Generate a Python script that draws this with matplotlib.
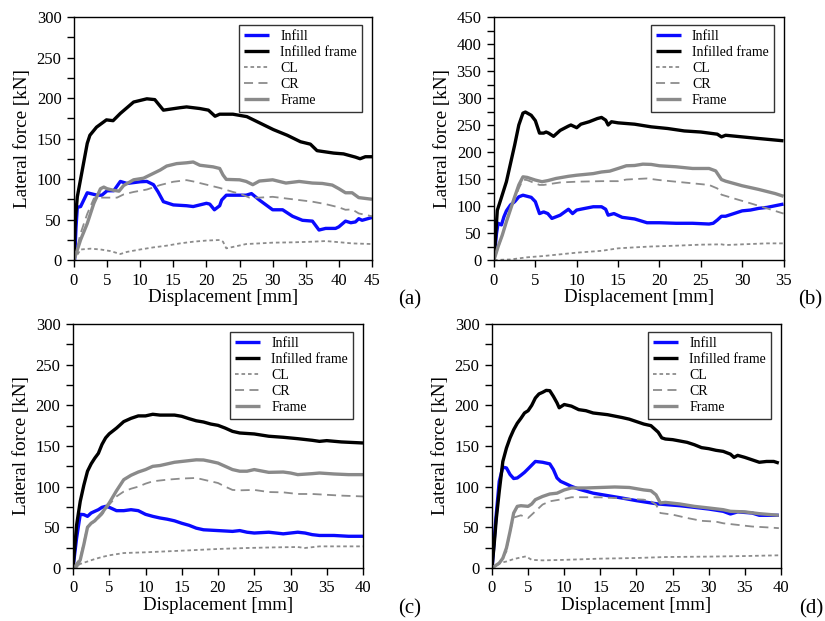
import matplotlib
matplotlib.use("Agg")
import matplotlib.pyplot as plt
from matplotlib.ticker import MultipleLocator

plt.rcParams['font.family'] = ['Liberation Serif', 'DejaVu Serif']

# ---------------- Panel (a) ----------------
a_inf_x = [0, 0.05, 0.3, 0.5, 1, 2, 2.5, 3.5, 4.2, 5, 6, 7, 8, 10, 11, 12, 12.7, 13.5, 15, 17, 18, 19, 20, 20.5,
           21.2, 22, 22.3, 23, 25, 26, 26.8, 28, 30, 31.5, 33, 34.5, 36, 37, 38, 39.5, 40, 41, 41.8, 42.5, 43, 43.5, 45]
a_inf_y = [0, -7, 40, 65, 66, 83, 82, 80, 80, 85.5, 85.5, 97, 94.5, 96.6, 97, 93, 84, 72, 68, 67, 66, 68, 70, 69,
           62, 67, 74, 80, 80, 80, 82, 74, 62, 62, 54, 49, 48, 37, 39, 39, 41, 48, 46, 47, 51, 49, 52.5]
a_if_x = [0, 0.2, 0.5, 1, 2, 2.4, 3.4, 4.9, 5.9, 7, 9, 11, 12.2, 13.5, 16, 17, 19, 20.3, 21.3, 22, 24, 26.1, 28.1,
          30.1, 32.2, 34.2, 35.7, 36.7, 39.2, 40.7, 42.5, 43.2, 44, 45]
a_if_y = [0, 50, 78, 100, 144, 154, 164, 173, 172, 181, 195, 199, 198, 185, 188, 189, 187, 185, 177.5, 180, 180, 177,
          169, 161, 154, 146, 143, 135, 132, 131, 127, 125, 127.5, 127.5]
a_cl_x = [0, 1, 2.5, 4, 5.5, 7, 8, 10, 12, 14, 16, 18, 20, 22, 22.5, 23, 24.5, 26, 28, 30, 33, 36, 38, 40, 42, 45]
a_cl_y = [0, 13, 14, 13, 11, 7.4, 10, 13, 15.6, 17.7, 20.5, 22.6, 24, 24.7, 22.6, 14.4, 17, 19.7, 20.5, 21.4, 21.8,
          22.6, 23.4, 22, 20.5, 19.7]
a_cr_x = [0, 1, 2, 3, 4, 5, 6.5, 7.5, 9, 11, 13, 15, 17, 18, 20, 22, 24, 25, 26.5, 28, 30, 33, 36, 38, 40, 41, 42,
          43, 45]
a_cr_y = [0, 33, 57, 76, 77, 77, 77, 81, 84, 87, 92.5, 96.6, 98.6, 97, 93, 89, 84, 82, 77, 77, 78, 75, 72, 69, 65,
          62, 62.5, 57.5, 54]
a_fr_x = [0, 1, 2, 3, 4, 4.5, 5, 6, 6.8, 7.5, 9, 10.5, 12, 13, 14, 15.5, 17, 18, 19, 21, 22, 22.5, 23, 25, 26, 27,
          28, 30, 31, 32, 34, 36, 37.5, 39, 40, 41, 42, 43, 45]
a_fr_y = [0, 25, 45, 70, 88, 90, 88, 86, 85, 92, 99, 101, 107, 111, 116, 119, 120, 121, 117, 115, 113, 105, 99.5,
          99, 97, 93, 97.5, 99, 97, 95, 97, 95, 94.5, 92.5, 88, 83, 83, 77, 75]

# ---------------- Panel (b) ----------------
b_inf_x = [0, 0.3, 0.5, 0.9, 1.2, 1.5, 2, 2.5, 3, 3.5, 4, 4.5, 5, 5.5, 6, 6.5, 7, 8, 9, 9.5, 10, 11, 12, 13, 13.5,
           13.8, 14.5, 15.5, 17, 18.5, 20, 22, 24, 26, 26.5, 27, 27.5, 28, 29, 30, 31, 32, 33, 35]
b_inf_y = [0, 49, 68, 65, 80, 91, 102, 108, 117, 120, 118, 116, 108, 86, 89, 86, 77, 83, 94, 86, 92.5, 95.6, 98.6,
           98.6, 94, 83, 86, 79, 76, 69, 69, 68, 68, 66.6, 68, 74, 81, 81, 86, 91, 92.5, 95.6, 97.4, 103.6]
b_if_x = [0, 0.4, 0.8, 1.5, 2, 2.5, 3, 3.5, 3.8, 4.5, 5, 5.5, 6, 6.3, 6.6, 7.2, 8, 9, 9.3, 10, 10.5, 11.5, 12.5, 13,
          13.5, 13.8, 14.2, 15, 17, 19, 21, 23, 25, 27, 27.5, 28, 30, 32, 35]
b_if_y = [0, 92, 111, 145, 179, 213, 250, 272, 274, 268, 258, 235, 235, 237, 235, 229, 240, 248, 250, 245, 251.5,
          256, 262, 264, 259, 250, 256, 254, 251.5, 246.6, 243.5, 239, 237, 233, 228, 231, 228, 225, 220.7]
b_cl_x = [0, 2, 4, 6, 8, 10, 13, 15, 17, 19, 22, 25, 27.5, 28, 30, 33, 35]
b_cl_y = [0, 1, 5, 7.4, 10.5, 13.6, 17, 21.6, 23.4, 25, 26.5, 28.4, 29, 27.7, 29, 30.8, 30.8]
b_cr_x = [0, 1, 2, 3, 3.5, 4, 5.5, 6, 8, 10, 13, 15, 16, 18.5, 20, 22, 24, 26, 27, 27.5, 29, 31, 33, 35]
b_cr_y = [0, 46, 94, 132.5, 149, 148, 139, 139, 143.6, 145, 146, 146, 149, 151, 148, 145, 142, 139, 132.5, 121, 114,
          105, 95.6, 86]
b_fr_x = [0, 0.5, 1, 1.5, 2, 2.5, 3, 3.5, 4, 5, 5.8, 6.5, 7.5, 9, 10, 12, 13, 14, 15, 16, 17, 18, 19, 20, 22, 24,
          26, 26.8, 27.5, 28, 30, 32, 34, 35]
b_fr_y = [0, 25, 46, 71, 94, 117, 139, 154, 153, 148, 145, 147, 151, 155, 157, 160, 163, 164.6, 169.5, 174.5, 175,
          177.5, 177, 174.5, 172.6, 169.5, 169.5, 165, 149, 146, 137.5, 130.7, 123, 118]

# ---------------- Panel (c) ----------------
c_inf_x = [0, 0.5, 1, 1.5, 2, 2.5, 3, 3.5, 4, 4.5, 5, 6, 7, 8, 9, 10, 11, 12, 13, 14, 15, 16, 17, 18, 20, 22, 23,
           24, 25, 27, 29, 31, 32, 33, 34, 36, 38, 40]
c_inf_y = [0, 37, 66, 65.6, 63.5, 67.6, 69.7, 71.7, 74.6, 75.8, 74.6, 70.5, 70.5, 71.7, 70.5, 66, 63.5, 61.5, 60,
           58, 55, 52.5, 49, 47, 46, 45, 46, 44, 43, 44, 42, 44, 43, 41, 40, 40, 39, 39]
c_if_x = [0, 0.5, 1, 1.5, 2, 2.5, 3, 3.5, 4, 4.5, 5, 6, 7, 8, 9, 10, 11, 12, 14, 15, 16, 17, 18, 19, 20, 21, 22, 23,
          25, 27, 29, 31, 33, 34, 35, 37, 40]
c_if_y = [0, 53, 82, 102, 119, 128, 135, 141, 152, 160, 165, 172, 180, 184, 187, 187, 189, 188, 188, 186.5, 183.6,
          181, 179.5, 177, 175.4, 172, 168, 166, 164.8, 162, 160.7, 159, 157, 155.7, 156.6, 155, 153.7]
c_cl_x = [0, 1, 2, 3, 4, 5, 7, 10, 13, 16, 20, 24, 28, 31, 32, 34, 40]
c_cl_y = [0, 5, 8, 11, 13.5, 15.6, 18.4, 19.3, 20.5, 21.7, 23.4, 24.6, 25.4, 25.8, 24.6, 26.6, 26.6]
c_cr_x = [0, 1, 2, 2.5, 3, 4, 5, 6, 7, 8, 9, 10, 11, 13, 15, 17, 18, 20, 21, 22, 23, 25, 27, 29, 31, 33, 35, 37, 40]
c_cr_y = [0, 12, 51, 55, 57, 65.6, 78, 88, 94, 97.5, 100, 103.7, 106.6, 108.6, 110, 110.7, 108.6, 104.5, 100, 96,
          95.5, 96, 93.4, 93, 91, 91, 90, 89, 88]
c_fr_x = [0, 0.5, 1, 1.5, 2, 2.5, 3, 4, 5, 6, 7, 8, 9, 10, 11, 12, 13, 14, 15, 16, 17, 18, 19, 20, 21, 22, 23, 24,
          25, 27, 29, 30, 31, 33, 34, 36, 38, 40]
c_fr_y = [0, 2, 10, 29, 50, 55, 58, 67.6, 80, 95, 108.6, 114, 118, 121, 125, 126, 128, 130, 131, 132, 133, 132.8,
          131, 129, 125, 121, 119, 119, 121, 117.6, 118, 116.8, 114.8, 116, 116.8, 115.6, 114.8, 114.8]

# ---------------- Panel (d) ----------------
d_inf_x = [0, 0.1, 0.5, 1, 1.5, 2, 2.5, 3, 3.5, 4, 4.5, 5, 6, 7, 8, 8.5, 9, 9.5, 10, 11, 12, 14, 16, 18, 20, 22, 23,
           24, 26, 28, 30, 32, 33, 34, 36, 37, 38, 39.7]
d_inf_y = [-3, 10, 57, 106.5, 124, 123, 115, 110, 110.7, 114, 117.6, 122, 131, 130, 128, 121, 110.7, 106.5, 104.5,
           100.4, 97, 92, 89, 86, 82.8, 80, 78.7, 78, 76.6, 74.6, 72.5, 69.7, 66.4, 69, 67.6, 64.8, 64.8, 64.8]
d_if_x = [0, 0.3, 0.6, 1, 1.5, 2, 2.5, 3, 3.5, 4, 4.5, 5, 5.5, 6, 6.5, 7, 7.5, 8, 8.5, 9, 9.3, 10, 11, 12, 13, 14,
          16, 18, 19, 20, 21, 22, 23, 23.5, 24, 25, 27, 28, 29, 30, 31, 32, 33, 33.5, 34, 35, 36, 37, 38, 39, 39.7]
d_if_y = [0, 29, 61, 94, 131, 147.5, 160, 170, 178, 184, 190.6, 193.4, 200, 209, 214, 216, 218.4, 218, 211, 203, 197,
          201, 199, 194.7, 193.4, 190.6, 188.5, 185, 183, 180, 177, 175, 167, 160, 158.6, 157.8, 154.5, 151.6, 148,
          146.7, 144.7, 143.4, 140, 136, 138.5, 136, 133, 130, 131, 131, 129]
d_cl_x = [0, 1, 2, 3, 4, 4.7, 5.5, 7, 10, 15, 20, 24, 30, 35, 39.7]
d_cl_y = [0, 6, 8, 11, 13, 14.3, 10, 9.4, 10, 11.5, 12.3, 13.5, 14, 14.7, 15.6]
d_cr_x = [0, 1, 2, 2.5, 3, 4, 5, 6, 7, 8, 10, 11, 13, 15, 17, 19, 21, 22, 22.7, 23.3, 25, 27, 29, 31, 32, 34, 36,
          38, 39.7]
d_cr_y = [0, 5, 20.5, 45, 62, 64.8, 61.5, 69.7, 78, 82, 85, 87, 87, 86.9, 86, 85, 84, 82, 78, 67.6, 65.6, 61.5, 58,
          57, 55, 53, 51, 50, 49]
d_fr_x = [0, 1, 1.5, 2, 2.5, 3, 3.5, 4, 5, 5.5, 6, 7, 8, 9, 10, 11, 13, 15, 17, 19, 21, 22, 22.7, 23.3, 24, 26, 28,
          30, 32, 33, 35, 37, 39.7]
d_fr_y = [0, 6, 12, 24.6, 45, 67.6, 75.8, 76.6, 75.8, 78.7, 84, 88, 91, 92, 96, 98.4, 98.4, 99, 99.6, 99, 96, 95,
          90, 80, 80.7, 78.7, 75.8, 73.8, 71.7, 69.7, 69, 66.8, 64.8]

series_labels = ["Infill", "Infilled frame", "CL", "CR", "Frame"]
panel_tags = ["(a)", "(b)", "(c)", "(d)"]
x_limits = [45, 35, 40, 40]
y_limits = [300, 450, 300, 300]

panels = [
    [(a_inf_x, a_inf_y), (a_if_x, a_if_y), (a_cl_x, a_cl_y), (a_cr_x, a_cr_y), (a_fr_x, a_fr_y)],
    [(b_inf_x, b_inf_y), (b_if_x, b_if_y), (b_cl_x, b_cl_y), (b_cr_x, b_cr_y), (b_fr_x, b_fr_y)],
    [(c_inf_x, c_inf_y), (c_if_x, c_if_y), (c_cl_x, c_cl_y), (c_cr_x, c_cr_y), (c_fr_x, c_fr_y)],
    [(d_inf_x, d_inf_y), (d_if_x, d_if_y), (d_cl_x, d_cl_y), (d_cr_x, d_cr_y), (d_fr_x, d_fr_y)],
]

styles = [
    dict(color='#0a0aff', lw=2.4, ls='-'),
    dict(color='black', lw=2.4, ls='-'),
    dict(color='#8c8c8c', lw=1.3, ls=(0, (2.0, 1.6))),
    dict(color='#8c8c8c', lw=1.3, ls=(0, (5.0, 3.0))),
    dict(color='#8a8a8a', lw=2.4, ls='-'),
]

W, H = 825, 621
fig = plt.figure(figsize=(W / 100, H / 100), dpi=100)

# axes boxes in pixels: left, right, top, bottom
boxes = [(74, 372, 17, 260), (494, 783.5, 17, 260), (73, 363, 324, 568), (492, 781, 324, 568)]
tag_pos = [(410, 300), (810, 300), (410, 609), (811, 609)]

for i, (l, r, t, b) in enumerate(boxes):
    ax = fig.add_axes([l / W, 1 - b / H, (r - l) / W, (b - t) / H])
    for (xs, ys), lab, st in zip(panels[i], series_labels, styles):
        ax.plot(xs, ys, label=lab, solid_capstyle='butt', **st)
    ax.set_xlim(0, x_limits[i])
    ax.set_ylim(0, y_limits[i])
    ax.xaxis.set_major_locator(MultipleLocator(5))
    ax.yaxis.set_major_locator(MultipleLocator(50))
    ax.yaxis.set_minor_locator(MultipleLocator(25))
    ax.tick_params(axis='both', which='both', direction='out', length=5, width=1, labelsize=12, pad=4)
    for sp in ax.spines.values():
        sp.set_linewidth(1.0)
    ax.set_xlabel("Displacement [mm]", fontsize=13.6, labelpad=0)
    ax.set_ylabel("Lateral force [kN]", fontsize=13.8, labelpad=4)
    leg = ax.legend(loc='upper right', fontsize=10, frameon=True, fancybox=False, edgecolor='#333333',
                    framealpha=1, handlelength=1.8, labelspacing=0.22, borderpad=0.35, handletextpad=0.8,
                    bbox_to_anchor=(1 - 10 / (r - l), 1 - 8 / (b - t)), borderaxespad=0)
    leg.get_frame().set_linewidth(1.0)
    fig.text(tag_pos[i][0] / W, 1 - tag_pos[i][1] / H, panel_tags[i], fontsize=15, ha='center', va='center')

fig.savefig("out.png", dpi=100)
